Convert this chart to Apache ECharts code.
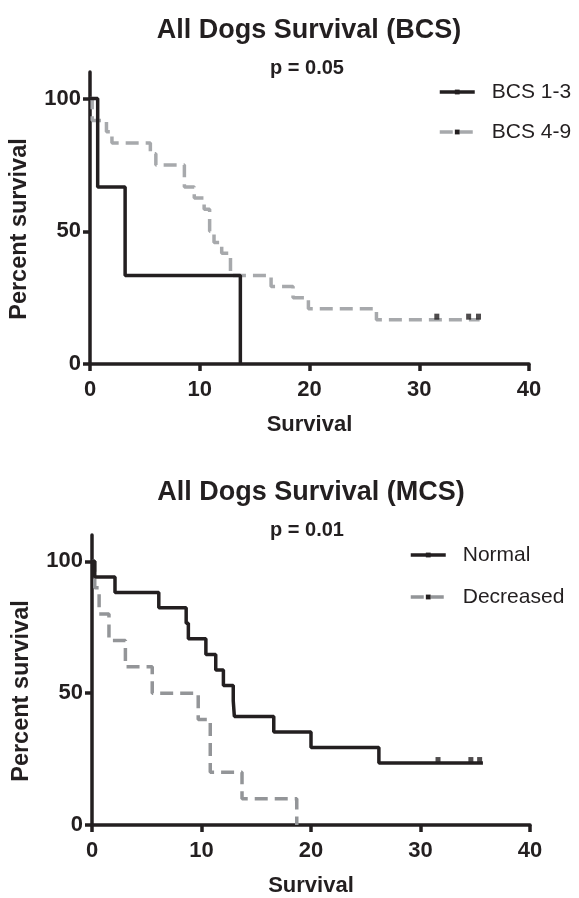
<!DOCTYPE html>
<html><head><meta charset="utf-8">
<script src="https://cdn.jsdelivr.net/npm/echarts@6/dist/echarts.min.js"></script>
<style>html,body{margin:0;padding:0;background:#fff}#c{width:579px;height:898px}</style>
</head><body><div id="c"></div>
<script>
// ---------- data ----------
const bcsTitle = 'All Dogs Survival (BCS)';
const bcsP = 'p = 0.05';
const bcsLowName = 'BCS 1-3';
const bcsLowTime = [0, 0.7, 3.2, 13.7];
const bcsLowSurv = [100, 66.7, 33.3, 0];
const bcsHighName = 'BCS 4-9';
const bcsHighTime = [0, 0.2, 1.5, 2.0, 5.5, 6.0, 8.6, 9.5, 10.4, 10.9, 11.3, 12.0, 12.8, 16.5, 18.5, 19.9, 26.1, 35.5];
const bcsHighSurv = [100, 91.7, 87.5, 83.3, 79.2, 75.0, 66.7, 62.5, 58.3, 50.0, 45.8, 41.7, 33.3, 29.2, 25.0, 20.8, 16.7, 16.7];
const bcsHighCensorTime = [31.6, 34.5, 35.4];
const bcsHighCensorSurv = [16.7, 16.7, 16.7];

const mcsTitle = 'All Dogs Survival (MCS)';
const mcsP = 'p = 0.01';
const mcsNormalName = 'Normal';
const mcsNormalTime = [0, 0.25, 2.1, 6.1, 8.6, 8.8, 10.4, 11.3, 12.0, 12.9, 13.0, 16.6, 20.0, 26.2, 35.7];
const mcsNormalSurv = [100, 94.1, 88.2, 82.4, 76.5, 70.6, 64.7, 58.8, 52.9, 47.1, 41.2, 35.3, 29.4, 23.5, 23.5];
const mcsNormalCensorTime = [31.6, 34.6, 35.4];
const mcsNormalCensorSurv = [23.5, 23.5, 23.5];
const mcsDecName = 'Decreased';
const mcsDecTime = [0, 0.25, 0.65, 1.55, 3.05, 5.5, 9.7, 10.8, 13.7, 18.7];
const mcsDecSurv = [100, 90, 80, 70, 60, 50, 40, 20, 10, 0];

const xTicks = [0, 10, 20, 30, 40];
const yTicks = [0, 50, 100];
const xName = 'Survival';
const yName = 'Percent survival';

// ---------- style ----------
const ink = '#231f20';
const grayTop = '#a7a9ac';
const grayBot = '#939598';
const ff = '"Liberation Sans", Arial, Helvetica, sans-serif';
const lw = 3.5;

function pairs(t, s) { return t.map((v, i) => [v, s[i]]); }

function xAxisCfg(gi) {
  return {
    gridIndex: gi, type: 'value', min: 0, max: 40, interval: 10,
    axisLine: { show: true, onZero: false, lineStyle: { color: ink, width: lw } },
    axisTick: { show: true, length: 7, customValues: xTicks, lineStyle: { color: ink, width: lw } },
    axisLabel: { customValues: xTicks, color: ink, fontSize: 22, fontWeight: 'bold', fontFamily: ff, margin: 15 },
    splitLine: { show: false },
    name: xName, nameLocation: 'middle', nameGap: 50,
    nameTextStyle: { color: ink, fontSize: 22, fontWeight: 'bold', fontFamily: ff }
  };
}
function yAxisCfg(gi) {
  return {
    gridIndex: gi, type: 'value', min: 0, max: 110, interval: 50,
    axisLine: { show: true, onZero: false, lineStyle: { color: ink, width: lw } },
    axisTick: { show: true, length: 7, customValues: yTicks, lineStyle: { color: ink, width: lw } },
    axisLabel: { customValues: yTicks, color: ink, fontSize: 22, fontWeight: 'bold', fontFamily: ff, margin: 9,
      formatter: v => (yTicks.indexOf(v) >= 0 ? String(v) : '') },
    splitLine: { show: false },
    name: yName, nameLocation: 'middle', nameGap: 58, nameRotate: 90,
    nameTextStyle: { color: ink, fontSize: 23.5, fontWeight: 'bold', fontFamily: ff, padding: [0, 22, 0, 0] }
  };
}
function kmSeries(name, t, s, color, dashed, gi, z) {
  return {
    type: 'line', name: name, xAxisIndex: gi, yAxisIndex: gi,
    data: pairs(t, s), step: 'end', showSymbol: false, symbol: 'rect',
    itemStyle: { color: ink },
    lineStyle: { color: color, width: lw, type: dashed ? [13, 7] : 'solid', cap: 'butt' },
    silent: true, z: z, animation: false
  };
}
function censorSeries(name, t, s, gi) {
  return {
    type: 'scatter', name: name, xAxisIndex: gi, yAxisIndex: gi,
    data: pairs(t, s), symbol: 'rect', symbolSize: [5, 6], symbolOffset: [0, -3],
    itemStyle: { color: ink }, silent: true, z: 5, animation: false
  };
}
function titleCfg(text, x, top, size) {
  return { text: text, left: x, top: top, textAlign: 'center', padding: 0,
    textStyle: { color: ink, fontSize: size, fontWeight: 'bold', fontFamily: ff } };
}
function legendCfg(names, left, top, gap) {
  return {
    data: names, orient: 'vertical', left: left, top: top, padding: 0,
    itemWidth: 35, itemHeight: 6, itemGap: gap, selectedMode: false,
    lineStyle: { width: lw },
    textStyle: { color: ink, fontSize: 21, fontFamily: ff, lineHeight: 22, padding: [0, 0, 0, 12] }
  };
}

const chart = echarts.init(document.getElementById('c'), null, { renderer: 'canvas' });
chart.setOption({
  animation: false,
  backgroundColor: '#ffffff',
  title: [
    titleCfg(bcsTitle, 309, 17, 27),
    titleCfg(bcsP, 307, 58, 20),
    titleCfg(mcsTitle, 311, 479, 27),
    titleCfg(mcsP, 307, 520, 20)
  ],
  legend: [
    legendCfg([bcsLowName, bcsHighName], 438, 81, 18),
    legendCfg([mcsNormalName, mcsDecName], 409, 544, 20)
  ],
  grid: [
    { left: 89.5, right: 50, top: 72, height: 292 },
    { left: 92, right: 49, top: 535, height: 293 }
  ],
  xAxis: [xAxisCfg(0), xAxisCfg(1)],
  yAxis: [yAxisCfg(0), yAxisCfg(1)],
  series: [
    kmSeries(bcsHighName, bcsHighTime, bcsHighSurv, grayTop, true, 0, 2),
    kmSeries(bcsLowName, bcsLowTime, bcsLowSurv, ink, false, 0, 3),
    censorSeries('BCS 4-9 censored', bcsHighCensorTime, bcsHighCensorSurv, 0),
    kmSeries(mcsDecName, mcsDecTime, mcsDecSurv, grayBot, true, 1, 2),
    kmSeries(mcsNormalName, mcsNormalTime, mcsNormalSurv, ink, false, 1, 3),
    censorSeries('Normal censored', mcsNormalCensorTime, mcsNormalCensorSurv, 1)
  ]
});
</script>
</body></html>
